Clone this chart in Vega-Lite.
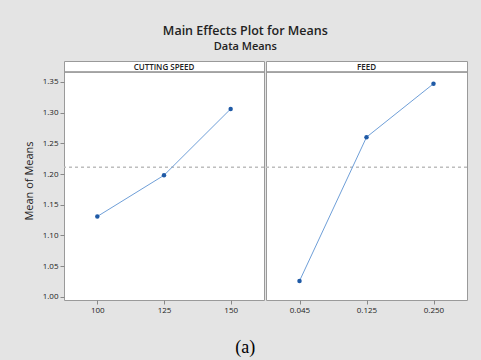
{
  "$schema": "https://vega.github.io/schema/vega-lite/v6.json",
  "background": "#e4e4e4",
  "padding": {"left": 22, "top": 25, "right": 15, "bottom": 5},
  "config": {
    "font": "Open Sans",
    "view": {"stroke": "#9a9a9a", "strokeWidth": 1, "fill": "white"},
    "axis": {"labelFont": "Open Sans", "labelFontSize": 8, "labelColor": "#222", "tickColor": "#888", "domain": false, "grid": false, "tickSize": 4}
  },
  "title": {"text": "(a)", "orient": "bottom", "anchor": "middle", "font": "Liberation Serif", "fontSize": 18, "fontWeight": "normal", "color": "black", "offset": 24},
  "data": {"values": [
    {"factor": "CUTTING SPEED", "level": "100", "mean": 1.131},
    {"factor": "CUTTING SPEED", "level": "125", "mean": 1.198},
    {"factor": "CUTTING SPEED", "level": "150", "mean": 1.306},
    {"factor": "FEED", "level": "0.045", "mean": 1.026},
    {"factor": "FEED", "level": "0.125", "mean": 1.260},
    {"factor": "FEED", "level": "0.250", "mean": 1.347}
  ]},
  "vconcat": [{
    "title": {"text": "Main Effects Plot for Means", "subtitle": "Data Means", "font": "Open Sans", "fontSize": 12.5, "fontWeight": 600, "color": "#222", "subtitleFont": "Open Sans", "subtitleFontSize": 11, "subtitleFontWeight": 600, "subtitleColor": "#222", "subtitlePadding": 3, "offset": 9, "anchor": "middle"},
    "spacing": 0,
    "hconcat": [
      {
        "width": 200, "height": 239,
        "title": {"text": "CUTTING SPEED", "offset": -11, "fontSize": 8, "fontWeight": 600, "color": "#222"},
        "transform": [{"filter": "datum.factor == 'CUTTING SPEED'"}],
        "encoding": {
          "x": {"field": "level", "type": "ordinal", "sort": null, "scale": {"type": "point", "padding": 0.5}, "axis": {"title": null, "labelAngle": 0}},
          "y": {"field": "mean", "type": "quantitative", "scale": {"domain": [0.995, 1.384], "nice": false, "zero": false}, "axis": {"title": "Mean of Means", "titleFontSize": 11, "titleFontWeight": "normal", "titleColor": "#222", "values": [1.0, 1.05, 1.1, 1.15, 1.2, 1.25, 1.3, 1.35], "format": ".2f", "titlePadding": 8}}
        },
        "layer": [
          {"mark": {"type": "rule", "color": "#9a9a9a", "strokeWidth": 1}, "encoding": {"x": null, "y": {"datum": 1.366}}},
          {"mark": {"type": "rule", "color": "#bdbdbd", "strokeDash": [3, 3], "strokeWidth": 1}, "encoding": {"x": null, "y": {"datum": 1.211}}},
          {"mark": {"type": "line", "color": "#6f9fd8", "strokeWidth": 1}},
          {"mark": {"type": "point", "filled": true, "color": "#1f5aa6", "size": 20, "opacity": 1}}
        ]
      },
      {
        "width": 201, "height": 239,
        "title": {"text": "FEED", "offset": -11, "fontSize": 8, "fontWeight": 600, "color": "#222"},
        "transform": [{"filter": "datum.factor == 'FEED'"}],
        "encoding": {
          "x": {"field": "level", "type": "ordinal", "sort": null, "scale": {"type": "point", "padding": 0.5}, "axis": {"title": null, "labelAngle": 0}},
          "y": {"field": "mean", "type": "quantitative", "scale": {"domain": [0.995, 1.384], "nice": false, "zero": false}, "axis": null}
        },
        "layer": [
          {"mark": {"type": "rule", "color": "#9a9a9a", "strokeWidth": 1}, "encoding": {"x": null, "y": {"datum": 1.366}}},
          {"mark": {"type": "rule", "color": "#bdbdbd", "strokeDash": [3, 3], "strokeWidth": 1}, "encoding": {"x": null, "y": {"datum": 1.211}}},
          {"mark": {"type": "line", "color": "#6f9fd8", "strokeWidth": 1}},
          {"mark": {"type": "point", "filled": true, "color": "#1f5aa6", "size": 20, "opacity": 1}}
        ]
      }
    ]
  }]
}
